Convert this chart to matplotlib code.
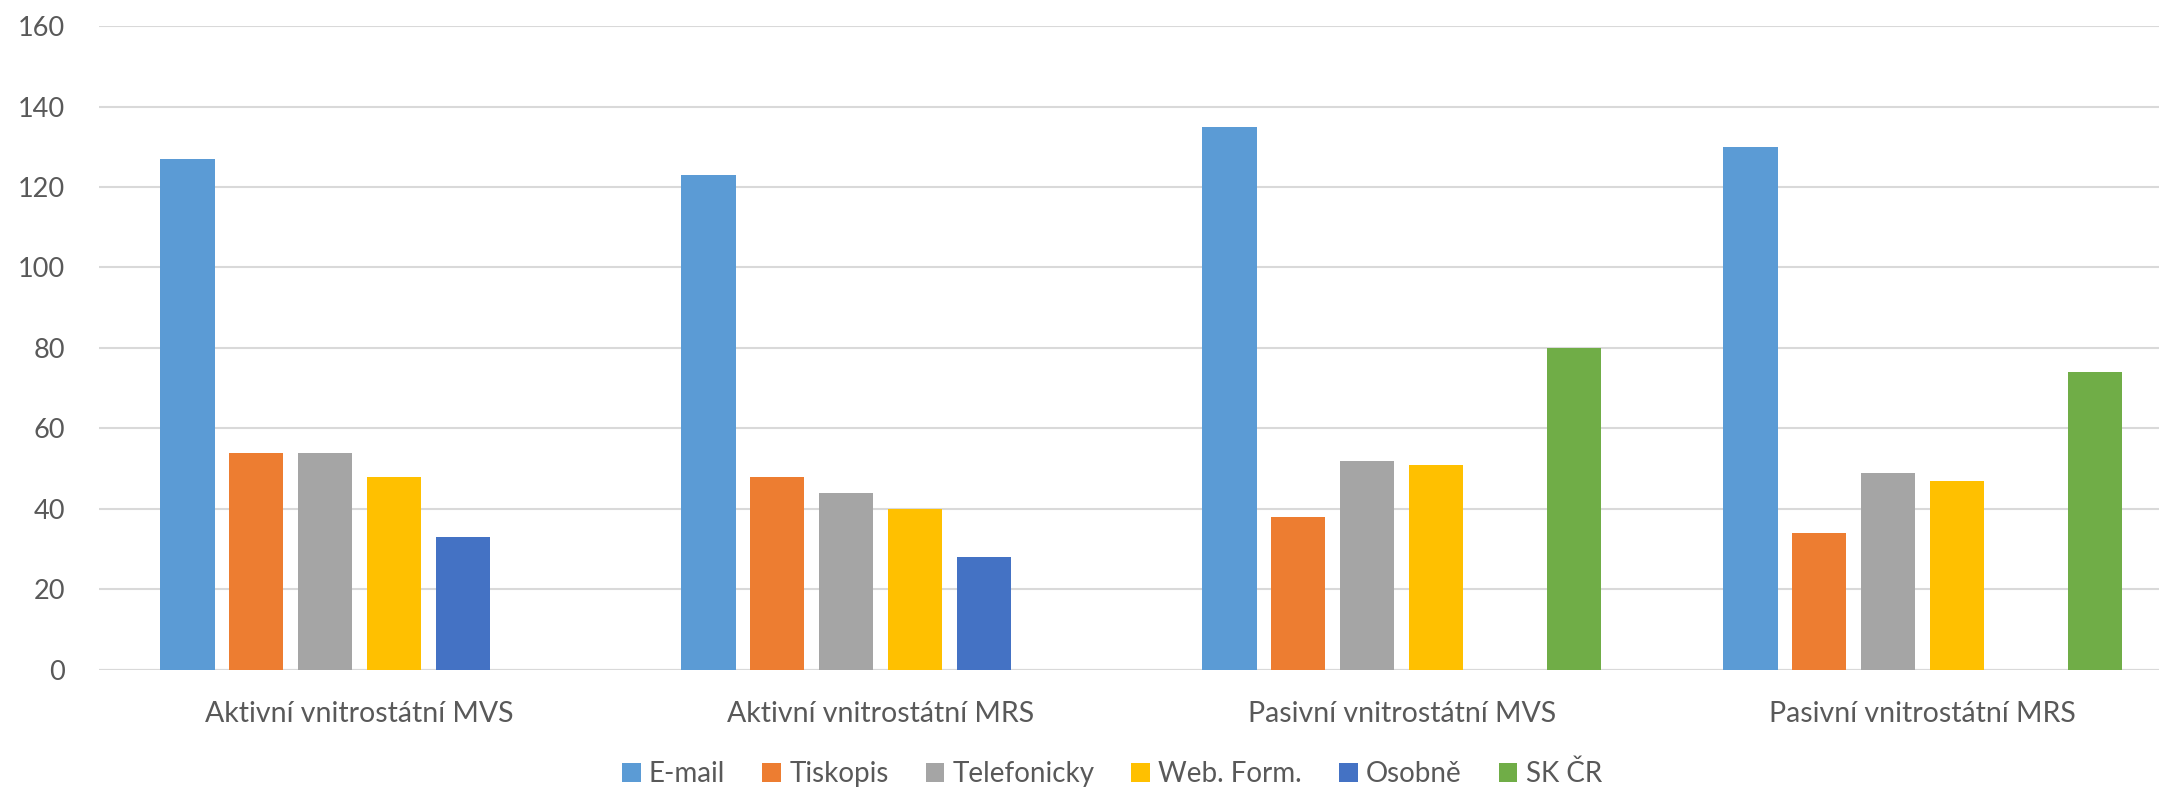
import numpy as np
import matplotlib
matplotlib.use("Agg")
import matplotlib.pyplot as plt
from matplotlib.patches import Patch

categories = ["Aktivní vnitrostátní MVS", "Aktivní vnitrostátní MRS",
              "Pasivní vnitrostátní MVS", "Pasivní vnitrostátní MRS"]
series_names = ["E-mail", "Tiskopis", "Telefonicky", "Web. Form.", "Osobně", "SK ČR"]
email = [127, 123, 135, 130]
tiskopis = [54, 48, 38, 34]
telefonicky = [54, 44, 52, 49]
web_form = [48, 40, 51, 47]
osobne = [33, 28, np.nan, np.nan]
sk_cr = [np.nan, np.nan, 80, 74]
yticks = [0, 20, 40, 60, 80, 100, 120, 140, 160]

colors = ["#5B9BD5", "#ED7D31", "#A5A5A5", "#FFC000", "#4472C4", "#70AD47"]
all_series = [email, tiskopis, telefonicky, web_form, osobne, sk_cr]

plt.rcParams['font.family'] = ['Lato', 'DejaVu Sans']
txt = "#595959"

fig = plt.figure(figsize=(21.59, 7.89), dpi=100)
ax = fig.add_axes([0.0459, 0.151, 0.9653, 0.816])

x = np.arange(len(categories))
pitch = 0.1322
width = 0.104
for i, (vals, c) in enumerate(zip(all_series, colors)):
    ax.bar(x + (i - 2.5) * pitch, vals, width=width, color=c, zorder=3)

ax.set_xlim(-0.5, len(categories) - 0.5)
ax.set_ylim(0, 160)
ax.set_yticks(yticks)
ax.set_yticklabels([str(t) for t in yticks], fontsize=19.5, color=txt)
ax.set_xticks(x)
ax.set_xticklabels(categories, fontsize=20.5, color=txt)
ax.tick_params(axis='both', length=0)
ax.tick_params(axis='x', pad=22.5)
ax.tick_params(axis='y', pad=24.5)
ax.grid(axis='y', color="#D9D9D9", linewidth=1.5, zorder=0)
for s in ["top", "right", "left", "bottom"]:
    ax.spines[s].set_visible(False)
ax.axhline(0, color="#D9D9D9", linewidth=1.5, zorder=2)

handles = [Patch(facecolor=c, label=n) for c, n in zip(colors, series_names)]
fig.legend(handles=handles, loc="center", bbox_to_anchor=(0.515, 0.019),
           ncol=6, frameon=False, fontsize=20, labelcolor=txt,
           handlelength=0.68, handleheight=0.68, handletextpad=0.29,
           columnspacing=1.33)

fig.savefig("out.png", dpi=100)
